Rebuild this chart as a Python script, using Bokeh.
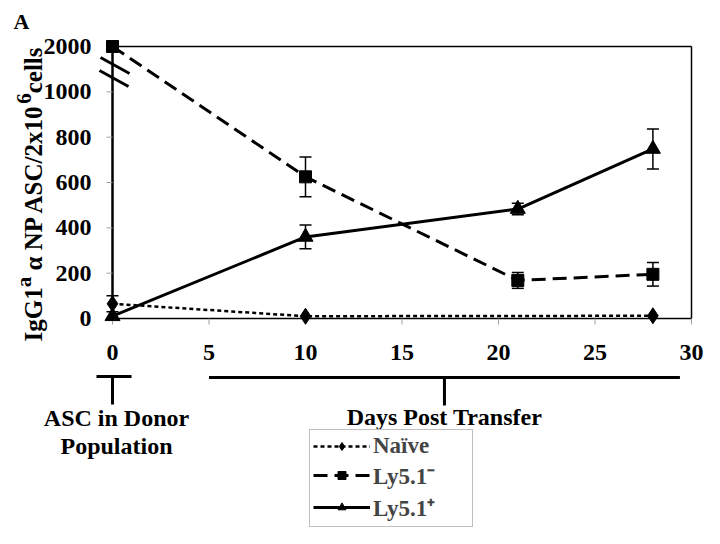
import math
from bokeh.plotting import figure
from bokeh.models import (Range1d, Whisker, TeeHead, Legend, LegendItem,
                          ColumnDataSource)
from bokeh.core.properties import value
from bokeh.embed import file_html
from bokeh.resources import INLINE

# ---------------- data ----------------
naive_days = [0, 10, 28]
naive_vals = [65, 10, 12]
naive_err = [35, 0, 0]

neg_days = [0, 10, 21, 28]
neg_vals = [2000, 625, 168, 195]
neg_err = [0, 88, 35, 52]

pos_days = [0, 10, 21, 28]
pos_vals = [10, 360, 483, 748]
pos_err = [0, 52, 25, 88]

x_ticks = [0, 5, 10, 15, 20, 25, 30]
y_ticks = [0, 200, 400, 600, 800, 1000, 2000]

BREAK = 1000
SQUEEZE = 0.2


def ty(v):
    return v if v <= BREAK else BREAK + (v - BREAK) * SQUEEZE


FONT = "Liberation Serif"
W_PX, H_PX = 704, 528

# ---------------- layout (pixels of the canvas) ----------------
AX_LEFT, AX_RIGHT = 112.0, 691.0     # x = 0 and x = 30
AX_BOTTOM, AX_TOP = 318.0, 46.0      # y = 0 and y = 2000
XMIN, XMAX = x_ticks[0], x_ticks[-1]
YMAX = ty(y_ticks[-1])
XS = (AX_RIGHT - AX_LEFT) / (XMAX - XMIN)
YS = (AX_BOTTOM - AX_TOP) / YMAX


def px2x(px):
    return XMIN + (px - AX_LEFT) / XS


def py2y(py):
    return (AX_BOTTOM - py) / YS


p = figure(width=W_PX, height=H_PX, output_backend="svg", toolbar_location=None,
           x_range=Range1d(px2x(0), px2x(W_PX)),
           y_range=Range1d(py2y(H_PX), py2y(0)),
           x_axis_type=None, y_axis_type=None, min_border=0)
p.min_border_left = p.min_border_right = p.min_border_top = p.min_border_bottom = 0
p.background_fill_color = "white"
p.border_fill_color = "white"
p.outline_line_color = None
p.xgrid.visible = False
p.ygrid.visible = False

TXT = dict(text_font=value(FONT), text_font_style="bold", text_color="black")

# ---- frame, axes and ticks ----
p.segment(x0=[XMIN, XMAX], y0=[YMAX, 0], x1=[XMAX, XMAX], y1=[YMAX, YMAX],
          line_color="black", line_width=1.5)
p.segment(x0=[XMIN], y0=[0], x1=[XMAX], y1=[0], line_color="black", line_width=1.5)
p.segment(x0=[XMIN], y0=[0], x1=[XMIN], y1=[YMAX], line_color="black", line_width=2.5)

tick_len_x = 6 / XS
tick_len_y = 6 / YS
p.segment(x0=x_ticks, y0=[0] * len(x_ticks), x1=x_ticks,
          y1=[-tick_len_y] * len(x_ticks), line_color="#a0a0a0", line_width=1)
yt = [ty(v) for v in y_ticks]
p.segment(x0=[XMIN] * len(yt), y0=yt, x1=[XMIN - tick_len_x] * len(yt), y1=yt,
          line_color="#a0a0a0", line_width=1)

p.text(x=x_ticks, y=[py2y(352)] * len(x_ticks), text=[str(t) for t in x_ticks],
       text_align="center", text_baseline="middle", text_font_size="24px", **TXT)
p.text(x=[px2x(AX_LEFT - 21)] * len(yt), y=yt, text=[str(v) for v in y_ticks],
       text_align="right", text_baseline="middle", text_font_size="24px", **TXT)

# axis break marks
brk = [(100, 57, 129, 73), (99, 70, 128, 86)]
p.segment(x0=[px2x(b[0]) for b in brk], y0=[py2y(b[1]) for b in brk],
          x1=[px2x(b[2]) for b in brk], y1=[py2y(b[3]) for b in brk],
          line_color="black", line_width=3)

# ---- series ----
series = [
    ("Naïve", naive_days, naive_vals, naive_err, "4 3", 2.5, "diamond", 16),
    ("Ly5.1⁻", neg_days, neg_vals, neg_err, "14 7", 3, "square", 12),
    ("Ly5.1⁺", pos_days, pos_vals, pos_err, "solid", 3, "triangle", 15),
]
items = []
for label, xs, vs, es, dash, lw, marker, size in series:
    src = ColumnDataSource(dict(x=xs, y=[ty(v) for v in vs]))
    lr = p.line("x", "y", source=src, line_color="black", line_width=lw,
                line_dash=dash)
    sr = p.scatter("x", "y", source=src, marker=marker, size=size,
                   fill_color="black", line_color="black")
    items.append(LegendItem(label=label, renderers=[lr, sr]))
    bx = [x for x, e in zip(xs, es) if e > 0]
    up = [ty(v + e) for v, e in zip(vs, es) if e > 0]
    lo = [ty(v - e) for v, e in zip(vs, es) if e > 0]
    wsrc = ColumnDataSource(dict(base=bx, upper=up, lower=lo))
    p.add_layout(Whisker(source=wsrc, base="base", upper="upper", lower="lower",
                         line_color="black", line_width=1.5,
                         upper_head=TeeHead(size=12, line_width=1.5, line_color="black"),
                         lower_head=TeeHead(size=12, line_width=1.5, line_color="black")))

# ---- brackets under the axis ----
mid_days = 17.2
brackets = [
    (px2x(AX_LEFT - 16), py2y(376), px2x(AX_LEFT + 19), py2y(376)),
    (XMIN, py2y(376), XMIN, py2y(404)),
    (5, py2y(377), 29.4, py2y(377)),
    (mid_days, py2y(377), mid_days, py2y(405)),
]
p.segment(x0=[b[0] for b in brackets], y0=[b[1] for b in brackets],
          x1=[b[2] for b in brackets], y1=[b[3] for b in brackets],
          line_color="black", line_width=3)

p.text(x=[px2x(AX_LEFT + 4)] * 2 + [mid_days], y=[py2y(417), py2y(445), py2y(416)],
       text=["ASC in Donor", "Population", "Days Post Transfer"],
       text_align="center", text_baseline="middle", text_font_size="24px", **TXT)

p.text(x=[px2x(13)], y=[py2y(8)], text=["A"], text_align="left",
       text_baseline="top", text_font_size="22px", **TXT)

# ---- y-axis title (pieces for superscripts, Times Bold metrics) ----
W = {' ': 250, 'I': 389, 'g': 500, 'G': 778, '1': 500, 'a': 500, 'α': 560,
     'N': 722, 'P': 611, 'A': 722, 'S': 556, 'C': 722, '/': 278, '2': 500,
     'x': 500, '0': 500, '6': 500, 'c': 444, 'e': 444, 'l': 278, 's': 389}
# (text, font px, baseline shift px, extra gap before in em-units)
pieces = [("IgG1", 25, 0, 0), ("a", 21, 10, 0), ("α NP ASC/2x10", 25, 0, 250),
          ("6", 21, 10, 0), ("cells", 25, 0, 0)]
pos = 341.0
for text, sz, shift, gap in pieces:
    pos -= gap / 1000.0 * sz
    p.text(x=[px2x(33 - shift)], y=[py2y(pos)], text=[text], angle=math.pi / 2,
           text_align="left", text_baseline="alphabetic",
           text_font_size=f"{sz}px", **TXT)
    pos -= sum(W[c] for c in text) / 1000.0 * sz

legend = Legend(items=items, location=(309, 1), orientation="vertical",
                border_line_color="#808080", border_line_width=1.5,
                background_fill_color="white", background_fill_alpha=1.0,
                padding=3, spacing=0, margin=0, glyph_width=57, glyph_height=20,
                label_standoff=3, label_width=96, label_height=20,
                label_text_font=FONT, label_text_font_style="bold",
                label_text_font_size="23px")
p.add_layout(legend, "center")

open("out.html", "w").write(file_html(p, INLINE))
